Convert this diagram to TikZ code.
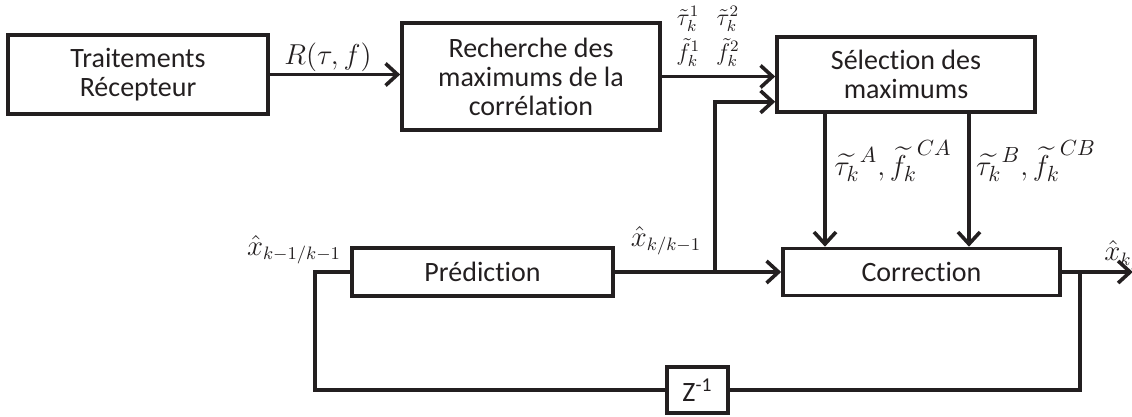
\documentclass[tikz,border=0pt]{standalone}
\usepackage{amsmath,amssymb}
\usepackage{fontspec}
\setmainfont{Carlito}[Ligatures=NoCommon]
\usetikzlibrary{calc,arrows.meta,positioning}
\definecolor{linec}{HTML}{231F20}
\tikzset{
  ar/.style={-{Straight Barb[length=6pt,width=11pt]},line width=1.8pt,linec},
  ln/.style={line width=1.8pt,linec,line join=miter},
  box/.style={draw=linec,line width=1.8pt,inner sep=0pt,align=center,text=linec,font=\fontsize{14}{14.5}\selectfont},
  lbl/.style={inner sep=0pt,text=linec,font=\fontsize{13.5}{15}\selectfont}
}

\begin{document}
\begin{tikzpicture}[x=0.5pt,y=-0.5pt]
\useasboundingbox (0,0) rectangle (1132,417);
\node[box,minimum width=130pt,minimum height=39.5pt] (trt) at (138,74.5) {Traitements\\Récepteur};
\node[box,minimum width=129pt,minimum height=53.5pt] (rech) at (531,76.5) {Recherche des\\maximums de la\\corrélation};
\node[box,minimum width=129pt,minimum height=37.5pt] (sel) at (906,74.5) {Sélection des\\maximums};
\node[box,minimum width=130.5pt,minimum height=24pt] (pred) at (482.5,272) {Prédiction};
\node[box,minimum width=138.5pt,minimum height=23.5pt] (corr) at (921.5,272) {Correction};
\node[box,minimum width=30.5pt,minimum height=23pt] (zinv) at (697.5,390) {Z\textsuperscript{-1}};
\coordinate (jn) at (715,272);
\coordinate (sa) at ([xshift=-40.5pt]sel.south);
\coordinate (sb) at ([xshift=31.5pt]sel.south);
\coordinate (fb) at ([xshift=9pt]corr.east);
\coordinate (lf) at ([xshift=-17.5pt]pred.west);
\coordinate (out) at ([xshift=35.5pt]corr.east);
\draw[ar] (trt.east) -- (trt.east -| rech.west);
\draw[ar] (rech.east) -- (rech.east -| sel.west);
\draw[ar] (pred.east) -- (pred.east -| corr.west);
\draw[ar] (jn) |- ([yshift=6pt]sel.south west);
\draw[ar] (sa) -- (sa |- corr.north);
\draw[ar] (sb) -- (sb |- corr.north);
\draw[ar] (corr.east) -- (out);
\draw[ln] (fb) |- (zinv.east);
\draw[ln] (zinv.west) -| (lf) -- (pred.west);
\node[lbl] (rlab) at (328,57) {$R(\tau,f)$};
\node[lbl,font=\fontsize{11.5}{12}\selectfont] (mlab) at (708,37) {$\begin{array}{@{}c@{\hspace{8pt}}c@{}}\tilde\tau_k^1 & \tilde\tau_k^2\\[3pt] \tilde f_k^1 & \tilde f_k^2\end{array}$};
\node[lbl,font=\fontsize{15}{16}\selectfont] (alab) at (893,161) {$\widetilde{\tau_k}^{A},\widetilde{f_k}^{CA}$};
\node[lbl,font=\fontsize{15}{16}\selectfont] (blab) at (1036,161) {$\widetilde{\tau_k}^{B},\widetilde{f_k}^{CB}$};
\node[lbl] (plab) at (666,241) {$\hat{x}_{k/k-1}$};
\node[lbl] (qlab) at (294,250) {$\hat{x}_{k-1/k-1}$};
\node[lbl,anchor=south west] (olab) at (1104,270) {$\hat{x}_{k/k}$};
\end{tikzpicture}
\end{document}
